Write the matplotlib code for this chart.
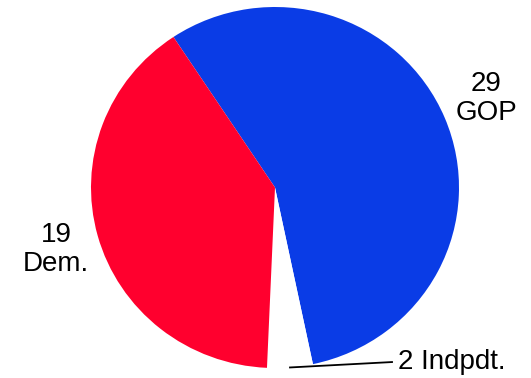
import matplotlib
matplotlib.use("Agg")
import matplotlib.pyplot as plt

# wedge sizes as drawn in the picture (GOP, Indpdt, Dem)
parties = ["GOP", "Indpdt.", "Dem."]
sizes = [28, 2, 20]
seats = [29, 2, 19]
colors = ["#0a3ce6", "#ffffff", "#ff002e"]

plt.rcParams["font.family"] = ["Liberation Sans", "DejaVu Sans"]

fig = plt.figure(figsize=(5.31, 3.78), dpi=100)
ax = fig.add_axes([0, 0, 1, 1])

rx, ry = 184.0, 180.5
cx, cy = 275.0, 187.5
ax.pie(sizes, colors=colors, startangle=123.5, counterclock=False,
       radius=1.0, wedgeprops=dict(linewidth=0))
ax.set_xlim(-cx / rx, (531 - cx) / rx)
ax.set_ylim((cy - 378) / ry, cy / ry)
ax.set_aspect("auto")
ax.axis("off")

fs = 20
ax.text(1.147, 0.493, "%d\n%s" % (seats[0], parties[0]), ha="center", va="center",
        fontsize=fs, linespacing=1.15)
ax.text(-1.19, -0.341, "%d\n%s" % (seats[2], parties[2]), ha="center", va="center",
        fontsize=fs, linespacing=1.15)
ax.plot([0.0815, 0.636], [-0.997, -0.967], color="black", lw=1.3, clip_on=False)
ax.text(0.668, -0.967, "%d %s" % (seats[1], parties[1]), ha="left", va="center",
        fontsize=fs)

fig.savefig("out.png", dpi=100)
